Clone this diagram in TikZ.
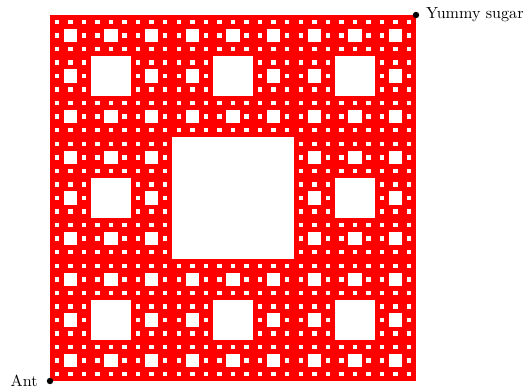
\documentclass[tikz,border=0pt]{standalone}
\usepackage{tikz}
\tikzset{
  spot/.style={circle,fill=black,inner sep=0pt,minimum size=4pt},
  hole/.style={fill=white},
}
\begin{document}
\begin{tikzpicture}[x=0.0218579cm,y=0.0218579cm]
  \useasboundingbox (0,0) rectangle (525,388);
  % ---- carpet: red square, then punch the holes level by level ----
  \fill[red] (50,7) rectangle (416,373);
  \foreach \lev in {1,...,4} {
    \pgfmathsetmacro\side{366/3^\lev}
    \pgfmathtruncatemacro\last{3^(\lev-1)-1}
    \foreach \i in {0,...,\last}
      \foreach \j in {0,...,\last}
        \fill[hole] ({50+(3*\i+1)*\side},{7+(3*\j+1)*\side}) rectangle +(\side,\side);
  }
  \node[spot,label={[xshift=-2pt]left:Ant}] (ant) at (50,7) {};
  \node[spot,label={[xshift=0.5pt]right:Yummy sugar}] (sugar) at (416,373) {};
\end{tikzpicture}
\end{document}
